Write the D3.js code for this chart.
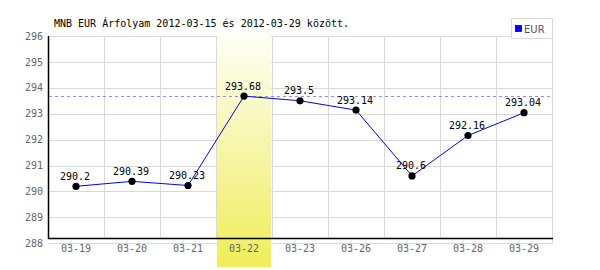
<!DOCTYPE html>
<html><head><meta charset="utf-8">
<script src="https://cdn.jsdelivr.net/npm/d3@7"></script>
<style>body{margin:0;background:#fff}svg{display:block}</style>
</head><body>
<script>
const categories = ["03-19","03-20","03-21","03-22","03-23","03-26","03-27","03-28","03-29"];
const values = [290.2, 290.39, 290.23, 293.68, 293.5, 293.14, 290.6, 292.16, 293.04];
const valueLabels = ["290.2","290.39","290.23","293.68","293.5","293.14","290.6","292.16","293.04"];
const yTicks = [288,289,290,291,292,293,294,295,296];
const highlightCat = "03-22";
const maxValue = 293.68;
const title = "MNB EUR Árfolyam 2012-03-15 és 2012-03-29 között.";
const seriesName = "EUR";

const W=600,H=270;
const svg=d3.select("body").append("svg").attr("width",W).attr("height",H);
const L=48,R=552,T=36,B=243.3,AX=238;
const x=d3.scaleBand().domain(categories).range([L,R]);
const y=d3.scaleLinear().domain([288,296]).range([B,T]);
const mono="'DejaVu Sans Mono', monospace";

const defs=svg.append("defs");
const g=defs.append("linearGradient").attr("id","hl").attr("x1",0).attr("y1",0).attr("x2",0).attr("y2",1);
g.append("stop").attr("offset","0%").attr("stop-color","#fffffb");
g.append("stop").attr("offset","100%").attr("stop-color","#efed5a");

// horizontal grid
svg.append("g").selectAll("line").data(yTicks).join("line")
  .attr("x1",L).attr("x2",R).attr("y1",d=>Math.round(y(d))+0.5).attr("y2",d=>Math.round(y(d))+0.5)
  .attr("stroke","#d9d9d9").attr("stroke-width",1);
// vertical grid at band boundaries
const bounds=categories.slice(1).map(c=>x(c));
svg.append("g").selectAll("line").data(bounds).join("line")
  .attr("x1",d=>Math.round(d)+0.5).attr("x2",d=>Math.round(d)+0.5).attr("y1",T).attr("y2",AX)
  .attr("stroke","#d9d9d9");
svg.append("line").attr("x1",R+0.5).attr("x2",R+0.5).attr("y1",T).attr("y2",B+0.5).attr("stroke","#d9d9d9");

// highlight band
svg.append("rect").attr("x",Math.round(x(highlightCat))+1).attr("y",27)
  .attr("width",Math.round(x.bandwidth())-2).attr("height",H-27-3).attr("fill","url(#hl)");

// axes
svg.append("line").attr("x1",L+0.5).attr("x2",L+0.5).attr("y1",T).attr("y2",AX+1).attr("stroke","#000").attr("stroke-width",1.5);
svg.append("line").attr("x1",L).attr("x2",R+1).attr("y1",AX+0.5).attr("y2",AX+0.5).attr("stroke","#000").attr("stroke-width",1.5);

// y labels
svg.append("g").selectAll("text").data(yTicks).join("text")
  .attr("x",43).attr("y",d=>y(d)).attr("dy","0.36em").attr("text-anchor","end")
  .attr("font-family",mono).attr("font-size",10).attr("fill","#666").text(d=>d);
// x labels
svg.append("g").selectAll("text").data(categories).join("text")
  .attr("x",d=>x(d)+x.bandwidth()/2).attr("y",252).attr("text-anchor","middle")
  .attr("font-family",mono).attr("font-size",10).attr("fill","#666").text(d=>d);

// max dashed line
svg.append("line").attr("x1",L+1).attr("x2",R).attr("y1",Math.round(y(maxValue))+0.5).attr("y2",Math.round(y(maxValue))+0.5)
  .attr("stroke","#8c8cff").attr("stroke-dasharray","3,3");

// line
const pts=categories.map((c,i)=>({c,v:values[i],l:valueLabels[i]}));
svg.append("path").datum(pts)
  .attr("d",d3.line().x(d=>x(d.c)+x.bandwidth()/2).y(d=>y(d.v)))
  .attr("fill","none").attr("stroke","#0000ff").attr("stroke-width",1);
svg.append("g").selectAll("circle").data(pts).join("circle")
  .attr("cx",d=>x(d.c)+x.bandwidth()/2).attr("cy",d=>y(d.v)).attr("r",3.6).attr("fill","#000");
svg.append("g").selectAll("text").data(pts).join("text")
  .attr("x",d=>x(d.c)+x.bandwidth()/2-1).attr("y",d=>y(d.v)-6.5).attr("text-anchor","middle")
  .attr("font-family",mono).attr("font-size",10).attr("fill","#000").text(d=>d.l);

// title
svg.append("text").attr("x",54).attr("y",27).attr("font-family",mono).attr("font-size",10)
  .attr("fill","#000").text(title);

// legend
svg.append("rect").attr("x",511.5).attr("y",18.5).attr("width",41).attr("height",20).attr("fill","#fff").attr("stroke","#d9d9d9");
svg.append("rect").attr("x",515.5).attr("y",25.5).attr("width",6).attr("height",6).attr("fill","#0000ff").attr("stroke","#00008b").attr("stroke-width",0.8);
svg.append("text").attr("x",524).attr("y",32.5).attr("font-family","'DejaVu Sans', sans-serif").attr("font-size",10)
  .attr("fill","#555").text(seriesName);
</script>
</body></html>
